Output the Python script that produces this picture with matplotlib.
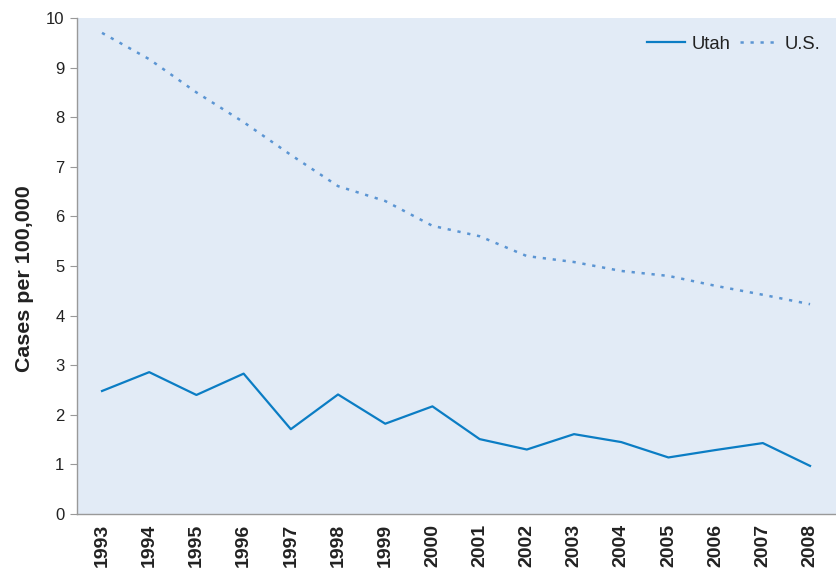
import matplotlib
matplotlib.use("Agg")
import matplotlib.pyplot as plt

years = [str(y) for y in range(1993, 2009)]
utah = [2.48, 2.86, 2.40, 2.83, 1.71, 2.41, 1.82, 2.17, 1.51, 1.30, 1.61, 1.45, 1.14, 1.29, 1.43, 0.97]
us = [9.70, 9.17, 8.50, 7.90, 7.24, 6.61, 6.31, 5.81, 5.60, 5.20, 5.08, 4.90, 4.80, 4.60, 4.42, 4.23]
yticks = list(range(0, 11))

plt.rcParams['font.family'] = ['Liberation Sans', 'DejaVu Sans']

fig = plt.figure(figsize=(8.36, 5.71), dpi=100)
ax = fig.add_axes([77/836, 57/571, 1 - 77/836, (514-18)/571])
ax.set_facecolor('#e2ebf6')

x = list(range(len(years)))
ax.plot(x, utah, color='#0b7dc4', lw=1.6, label='Utah')
ax.plot(x, us, color='#5b95d3', lw=1.8, linestyle=(0, (1.3, 2.7)), label='U.S.')

ax.set_xlim(-0.53, len(years) - 0.45)
ax.set_ylim(0, 10)
ax.set_yticks(yticks)
ax.set_yticklabels([str(v) for v in yticks], fontsize=12, color='#222222')
ax.set_xticks(x)
ax.set_xticklabels(years, rotation=90, fontsize=14, fontweight='bold', color='#222222')
ax.tick_params(axis='x', length=0, pad=7)
ax.tick_params(axis='y', length=5, color='#999999', pad=4)

for s in ['top', 'right']:
    ax.spines[s].set_visible(False)
for s in ['left', 'bottom']:
    ax.spines[s].set_color('#999999')
    ax.spines[s].set_linewidth(1.0)

ax.set_ylabel('Cases per 100,000', fontsize=15.4, fontweight='bold', color='#222222')
ax.yaxis.set_label_coords(-0.056, 0.475)

leg = ax.legend(loc='upper right', ncol=2, frameon=False, fontsize=13.3,
                handlelength=2.05, handletextpad=0.38, columnspacing=0.5,
                bbox_to_anchor=(0.997, 0.99), borderaxespad=0.3)
for t in leg.get_texts():
    t.set_color('#222222')

fig.savefig('out.png', dpi=100)
